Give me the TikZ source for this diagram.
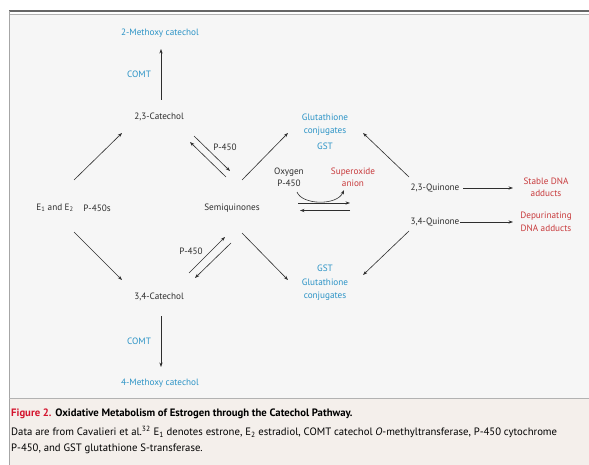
\documentclass[tikz,border=0pt]{standalone}
\usepackage{fontspec}
\setmainfont{PT Sans}
\usetikzlibrary{arrows.meta}
\definecolor{nejmblue}{HTML}{2B93C6}
\definecolor{nejmred}{HTML}{C83A3C}
\definecolor{capred}{HTML}{D4142E}
\definecolor{panelbg}{HTML}{F6F6F6}
\definecolor{capbg}{HTML}{F4EFEB}
\definecolor{ink}{HTML}{2E2E2E}
\tikzset{
  lbl/.style={font=\fontsize{9.2}{12.5}\selectfont, text=ink, inner sep=0pt, align=center},
  blbl/.style={lbl, text=nejmblue},
  rlbl/.style={lbl, text=nejmred},
  arr/.style={draw=ink, line width=0.6pt, -{Stealth[length=4.5pt,width=3.2pt]}},
  capline/.style={font=\fontsize{10.7}{12}\selectfont, anchor=west, inner sep=0pt},
}
\begin{document}
\begin{tikzpicture}[x=1pt,y=-1pt]
\useasboundingbox (0,0) rectangle (589,465);
% frame and backgrounds
\fill[white] (0,0) rectangle (589,465);
\fill[panelbg] (9,14) rectangle (589,398);
\fill[capbg] (9,398) rectangle (589,465);
\draw[gray!80!black, line width=1.3pt] (9,11) -- (589,11);
\draw[gray!60, line width=1pt] (9,14.5) -- (589,14.5);
\draw[gray!70, line width=0.9pt] (9,11) -- (9,465);
\draw[gray!60, line width=0.8pt] (9,398) -- (589,398);

% labels
\node[blbl] (m2) at (160,33) {2-Methoxy catechol};
\node[blbl] (comt1) at (139,74) {COMT};
\node[lbl] (c23) at (159,117) {2,3-Catechol};
\node[lbl] (e12) at (55,208) {E\textsubscript{1} and E\textsubscript{2}};
\node[lbl] (p450s) at (97,208) {P-450s};
\node[lbl] (c34) at (159,297) {3,4-Catechol};
\node[blbl] (comt2) at (139,341) {COMT};
\node[blbl] (m4) at (160,383) {4-Methoxy catechol};
\node[lbl] (p1) at (225,147) {P-450};
\node[lbl] (p2) at (191,251) {P-450};
\node[lbl] (semi) at (232,208) {Semiquinones};
\node[blbl] (gc1) at (325,124.5) {Glutathione\\conjugates};
\node[blbl] (gst1) at (325,146) {GST};
\node[lbl] (oxy) at (289,177.5) {Oxygen\\P-450};
\node[rlbl] (sup) at (353,177.5) {Superoxide\\anion};
\node[lbl] (q23) at (435,188) {2,3-Quinone};
\node[lbl] (q34) at (435,222) {3,4-Quinone};
\node[rlbl] (stable) at (546,187.5) {Stable DNA\\adducts};
\node[rlbl] (depur) at (546,222) {Depurinating\\DNA adducts};
\node[blbl] (gst2) at (325,268) {GST};
\node[blbl] (gc2) at (325,289.5) {Glutathione\\conjugates};

% connector end points
\coordinate (c23b) at (161,100);
\coordinate (m2b) at (161,49);
\coordinate (c34b) at (161,316);
\coordinate (m4t) at (161,367);
\coordinate (e12u) at (74,180);
\coordinate (c23l) at (122,133);
\coordinate (e12d) at (74,232);
\coordinate (c34l) at (122,280);
\coordinate (c23r1) at (194,136);
\coordinate (semi1) at (230,171);
\coordinate (semi2) at (226,177);
\coordinate (c23r2) at (190,142);
\coordinate (c34r1) at (189,273);
\coordinate (semi3) at (225,237);
\coordinate (semi4) at (231,243);
\coordinate (c34r2) at (195,278);
\coordinate (semiu) at (242,180);
\coordinate (gc1l) at (288,133);
\coordinate (semid) at (242,233);
\coordinate (gc2l) at (288,280);
\coordinate (q23u) at (409,177);
\coordinate (gc1r) at (363,133);
\coordinate (q34d) at (409,231);
\coordinate (gc2r) at (363,275);
\coordinate (q23r) at (463,188);
\coordinate (stl) at (513,188);
\coordinate (q34r) at (460,222);
\coordinate (dpl) at (513,222);
\coordinate (fwd0) at (298,203);
\coordinate (fwd1) at (350,203);
\coordinate (bwd0) at (350,210.5);
\coordinate (bwd1) at (300,210.5);
\coordinate (cur0) at (297,192);
\coordinate (cur1) at (344,190);

% connectors
\draw[arr] (c23b) -- (m2b);
\draw[arr] (c34b) -- (m4t);
\draw[arr] (e12u) -- (c23l);
\draw[arr] (e12d) -- (c34l);
\draw[arr] (c23r1) -- (semi1);
\draw[arr] (semi2) -- (c23r2);
\draw[arr] (c34r1) -- (semi3);
\draw[arr] (semi4) -- (c34r2);
\draw[arr] (semiu) -- (gc1l);
\draw[arr] (semid) -- (gc2l);
\draw[arr] (q23u) -- (gc1r);
\draw[arr] (q34d) -- (gc2r);
\draw[arr] (q23r) -- (stl);
\draw[arr] (q34r) -- (dpl);
\draw[arr] (fwd0) -- (fwd1);
\draw[arr] (bwd0) -- (bwd1);
\draw[arr] (cur0) .. controls (302,205) and (337,206) .. (cur1);

% caption
\node[capline] (cap1) at (11,414) {\textcolor{capred}{\textbf{Figure 2.}} \textbf{Oxidative Metabolism of Estrogen through the Catechol Pathway.}};
\node[capline] (cap2) at (11,432) {Data are from Cavalieri et al.\textsuperscript{32} E\textsubscript{1} denotes estrone, E\textsubscript{2} estradiol, COMT catechol \textit{O}-methyltransferase, P-450 cytochrome};
\node[capline] (cap3) at (11,449) {P-450, and GST glutathione S-transferase.};
\end{tikzpicture}
\end{document}
